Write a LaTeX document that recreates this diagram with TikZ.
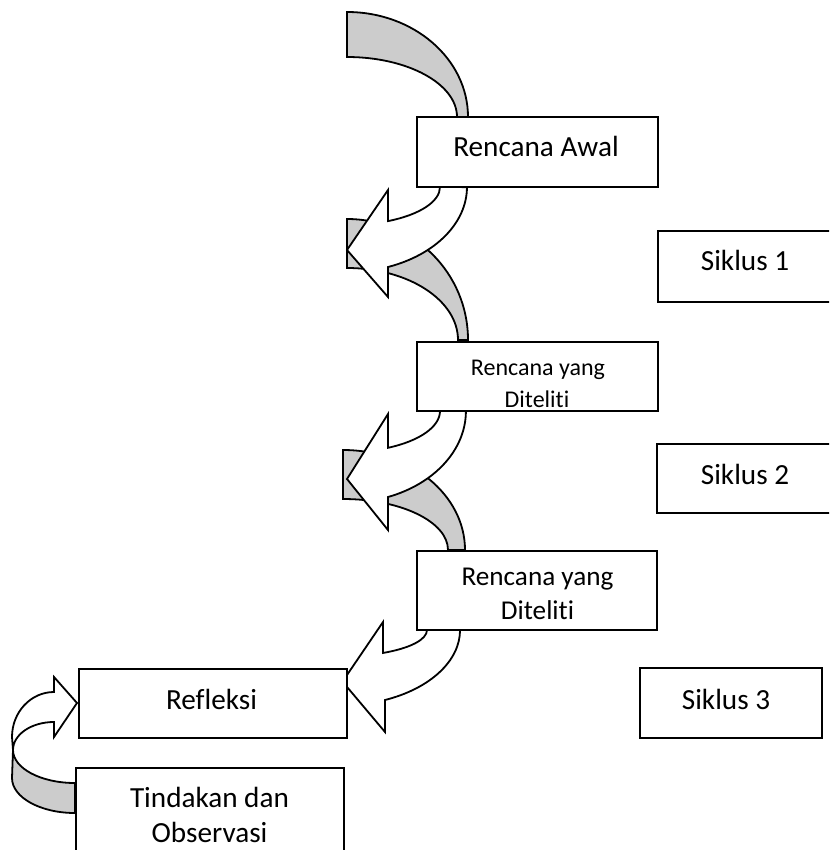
\documentclass[tikz,border=0pt]{standalone}
\usepackage{fontspec}
\setmainfont{Carlito}[Ligatures=NoCommon]
\definecolor{bandgray}{RGB}{204,204,204}
\tikzset{
  outl/.style={draw=black, line width=1.8pt, line join=miter},
  grayband/.style={outl, fill=bandgray},
  whitearrow/.style={outl, fill=white},
  box/.style={draw=black, line width=1.8pt, fill=white, rectangle, inner sep=0pt},
  big/.style={anchor=base, font=\fontsize{29.2}{35}\selectfont},
  mid/.style={anchor=base, font=\fontsize{27.2}{32}\selectfont},
  small/.style={anchor=base, font=\fontsize{24}{29}\selectfont}
}
\begin{document}
\begin{tikzpicture}[x=1pt,y=-1pt]
\useasboundingbox (0,0) rectangle (829,850);
\clip (0,0) rectangle (829,850);
\fill[white] (0,0) rectangle (829,850);

% top gray band
\draw[grayband] (347,12) arc[start angle=270,end angle=360,x radius=121,y radius=105]
  -- (457,117) arc[start angle=0,end angle=-90,x radius=110,y radius=60] -- cycle;

% arrow 1
\draw[grayband] (347,219) arc[start angle=270,end angle=360,x radius=121,y radius=121]
  -- (458,340) arc[start angle=0,end angle=-90,x radius=111,y radius=72] -- cycle;
\draw[whitearrow] (440,187) arc[start angle=0,end angle=63.8,x radius=93,y radius=38]
  -- (388,190) -- (347,250) -- (388,297) -- (388,267)
  arc[start angle=70,end angle=0,x radius=120,y radius=85] -- cycle;

% arrow 2
\draw[grayband] (343,450) arc[start angle=270,end angle=360,x radius=122,y radius=100]
  -- (448,550) arc[start angle=0,end angle=-90,x radius=105,y radius=51] -- cycle;
\draw[whitearrow] (440,411) arc[start angle=0,end angle=63.8,x radius=93,y radius=41]
  -- (388,414) -- (347,479) -- (388,530) -- (388,497)
  arc[start angle=69.8,end angle=0,x radius=119,y radius=91.6] -- cycle;

% arrow 3
\draw[whitearrow] (427,630) arc[start angle=0,end angle=60.4,x radius=87,y radius=26.4]
  -- (383,622) -- (342.5,681.6) -- (385,732) -- (385,700)
  arc[start angle=68,end angle=0,x radius=120,y radius=75.5] -- cycle;

% arrow 4 (left loop)
\draw[grayband] (13,750) arc[start angle=180,end angle=90,x radius=62,y radius=33]
  -- (75,813) arc[start angle=90,end angle=180,x radius=63,y radius=35] -- cycle;
\draw[whitearrow] (13,750) arc[start angle=180,end angle=270,x radius=41,y radius=28]
  -- (54,737) -- (77,703) -- (54,677) -- (54,692)
  arc[start angle=270,end angle=180,x radius=42,y radius=45] -- cycle;

% boxes
\node[box, minimum width=241pt, minimum height=70pt] (awal) at (537.5,152) {};
\node[box, minimum width=241pt, minimum height=69pt] (ryd1) at (537.5,376.5) {};
\node[box, minimum width=240pt, minimum height=79pt] (ryd2) at (537,590.5) {};
\node[box, minimum width=202pt, minimum height=71pt] (s1) at (759,266.5) {};
\node[box, minimum width=203pt, minimum height=69pt] (s2) at (758.5,478.5) {};
\node[box, minimum width=182pt, minimum height=70pt] (s3) at (731,703) {};
\node[box, minimum width=268pt, minimum height=69pt] (refl) at (213,703.5) {};
\node[box, minimum width=268pt, minimum height=132pt] (tind) at (210,834) {};

% texts
\node[big] (tawal) at (536,157) {Rencana Awal};
\node[small] (tryd1a) at (538,375) {Rencana yang};
\node[small] (tryd1b) at (537,407) {Diteliti};
\node[mid] (tryd2a) at (537.5,585) {Rencana yang};
\node[mid] (tryd2b) at (537.5,619) {Diteliti};
\node[big] (ts1) at (745,270) {Siklus 1};
\node[big] (ts2) at (745,484) {Siklus 2};
\node[big] (ts3) at (726,709) {Siklus 3};
\node[big] (trefl) at (211.5,709) {Refleksi};
\node[big] (ttind1) at (209.5,807) {Tindakan dan};
\node[big] (ttind2) at (209.5,842) {Observasi};
\end{tikzpicture}
\end{document}
